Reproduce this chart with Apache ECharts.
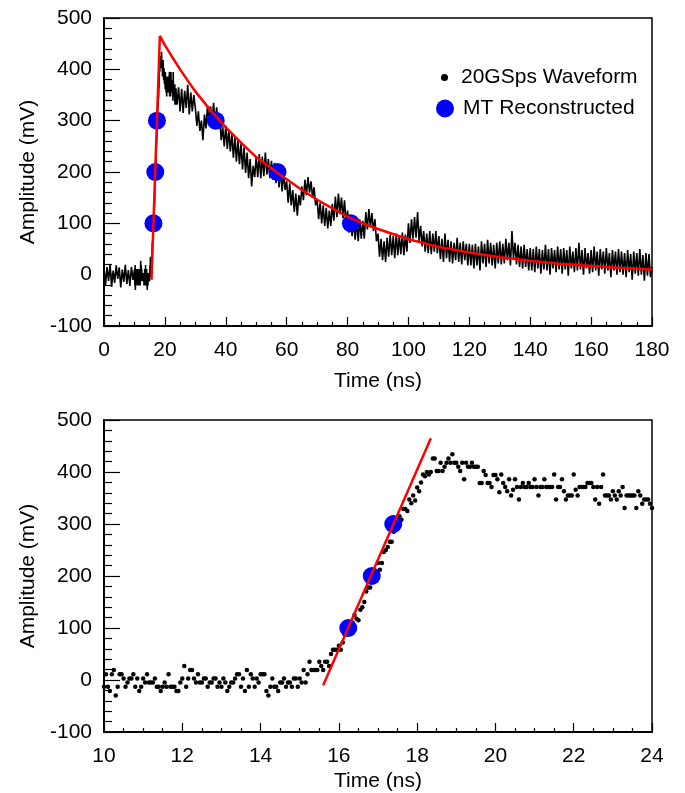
<!DOCTYPE html>
<html>
<head>
<meta charset="utf-8">
<script src="https://cdn.jsdelivr.net/npm/echarts@6/dist/echarts.min.js"></script>
<style>
  html, body { margin: 0; padding: 0; background: #fff; }
  #chart { width: 685px; height: 793px; }
</style>
</head>
<body>
<div id="chart"></div>
<script>
// 20 GSps waveform (mV). Coarse readings outside the 10-24 ns window,
// every sample inside it.
var coarseStep = 0.5;
var preStart = 0;
var wavePre = [12, -20, 15, -12, 20, -24, 8, -16, 18, -8, 14, -25, 10, -14, 19, -18, 9, -22, 15, -10];

var fineStart = 10;
var fineStep = 0.05;
var waveFine = [
  -13, 11, -13, -21, 11, 19, -30, -13, 11, 11, 3, -13, -5, 3, 3, 11, -13, 3, -21, -13,
  3, -5, 11, -5, -5, -5, 3, -13, -13, -21, -13, -5, -13, 11, -13, -13, -13, -21, -21, -5,
  3, 27, -13, 3, 19, 19, 3, -5, 11, -5, -5, 3, 3, -13, -5, -5, 3, 3, -13, -5,
  -13, 3, -5, -21, -13, -5, -5, 3, 11, 11, -13, 3, -21, 19, -13, 11, 3, -13, 3, -5,
  11, 11, 11, -21, -30, -13, 3, -13, -13, -21, -5, -5, 3, -13, -5, -5, -13, 3, 3, -13,
  3, -5, 19, -5, 11, 35, 19, 19, 19, 19, 35, 27, 19, 35, 35, 27, 50, 58, 58, 58,
  66, 58, 72, 87, 95, 100, 105, 110, 125, 118, 115, 135, 140, 150, 170, 178, 178, 195, 205, 209,
  225, 212, 225, 246, 250, 256, 266, 266, 285, 300, 300, 315, 308, 329, 329, 325, 347, 340, 355, 345,
  370, 363, 380, 395, 392, 400, 395, 400, 426, 426, 402, 402, 418, 402, 410, 418, 426, 418, 434, 418,
  418, 410, 402, 418, 386, 418, 410, 410, 418, 410, 410, 410, 379, 379, 402, 394, 379, 379, 371, 394,
  394, 386, 361, 395, 379, 371, 363, 386, 355, 366, 386, 371, 347, 371, 379, 371, 371, 379, 371, 371,
  386, 371, 355, 371, 371, 386, 371, 371, 371, 371, 395, 347, 371, 371, 386, 363, 347, 355, 355, 355,
  395, 366, 355, 371, 371, 371, 371, 379, 379, 379, 371, 347, 371, 339, 371, 395, 355, 355, 355, 347,
  363, 355, 347, 363, 355, 371, 331, 355, 355, 355, 355, 355, 331, 363, 355, 339, 347, 347, 347, 339,
  331
];

var postStart = 24.5;
var wavePost = [
  365, 318, 362, 315, 358, 325, 370, 312, 355, 318, 350,
  325, 290, 318, 280, 300, 262, 312, 285, 330, 295, 328, 298, 335, 292, 326, 290, 305, 262, 288, 250,
  290, 245, 282, 240, 275, 228, 268, 220, 262, 215, 255, 205, 248, 198, 238, 188, 225, 172, 212, 190,
  230, 190, 235, 188, 230, 192, 238, 195, 225, 188, 222, 185, 218, 178, 215, 170, 205, 162, 198, 165,
  182, 140, 178, 135, 165, 122, 158, 115, 155, 135, 172, 145, 185, 155, 190, 160, 182, 150, 170, 135,
  148, 108, 140, 100, 135, 95, 130, 90, 125, 95, 138, 105, 152, 112, 158, 118, 150, 110, 145, 100,
  125, 82, 115, 75, 108, 68, 105, 65, 108, 70, 105, 70, 122, 88, 128, 92, 120, 85, 108, 65,
  80, 35, 70, 28, 65, 25, 72, 35, 78, 38, 75, 32, 80, 38, 75, 40, 82, 38, 78, 45,
  100, 62, 108, 70, 112, 72, 122, 65, 95, 55, 85, 45, 80, 42, 85, 40, 80, 45, 85, 42,
  75, 30, 70, 25, 80, 32, 68, 25, 65, 22, 62, 28, 72, 25, 62, 20, 65, 28, 60, 18,
  60, 18, 58, 12, 60, 18, 55, 8, 65, 22, 60, 15, 68, 22, 62, 18, 58, 12, 62, 22,
  65, 20, 60, 22, 70, 28, 62, 18, 85, 32, 62, 20, 58, 15, 55, 12, 58, 15, 50, 8,
  52, 8, 50, 5, 55, 12, 50, 2, 48, 10, 58, 8, 50, 0, 52, 12, 48, 5, 55, 10,
  50, 2, 52, 10, 48, -2, 55, 12, 45, 5, 52, 8, 62, 10, 48, 0, 52, 12, 42, 2,
  48, 5, 55, 8, 45, -2, 50, 10, 45, 2, 52, 8, 42, -5, 48, 8, 45, 0, 50, 5,
  45, 0, 42, -5, 48, 5, 40, -10, 45, 2, 42, -2, 50, 0, 38, -12, 42, -2, 40, -5, 15
];

// MT reconstructed threshold crossings
var mtTimes = [16.24, 16.84, 17.39, 36.7, 57.0, 81.1];
var mtAmps = [100, 200, 300, 300, 200, 100];

// fitted pulse (red)
var fitTimes = [15.6, 18.35, 20, 22.5, 25, 27.5, 30, 35, 40, 45, 50, 55, 60, 65, 70, 75, 80, 85, 90, 100, 110, 120, 130, 140, 150, 160, 170, 180];
var fitAmps = [-10, 465, 447, 423, 400, 378, 357, 320, 287, 257, 229, 207, 186, 165, 146, 129, 113, 100, 89, 69, 54, 43, 34, 27, 21, 17, 13, 10];
var edgeTimes = [15.6, 18.35];
var edgeAmps = [-10, 465];

var topTicks = { min: 0, max: 180, interval: 20 };
var zoomTicks = { min: 10, max: 24, interval: 2 };

function pairs(start, step, vals) {
  return vals.map(function (v, i) { return [+(start + i * step).toFixed(2), v]; });
}
function zip(xs, ys) {
  return xs.map(function (x, i) { return [x, ys[i]]; });
}

var fineData = pairs(fineStart, fineStep, waveFine);
var fullData = pairs(preStart, coarseStep, wavePre)
  .concat(fineData)
  .concat(pairs(postStart, coarseStep, wavePost));
var mtData = zip(mtTimes, mtAmps);

var font = "'Liberation Sans', Arial, sans-serif";
var black = "#000";
var fs = 21;

function xAxis(gi, t, gap) {
  return {
    gridIndex: gi, type: "value", min: t.min, max: t.max, interval: t.interval,
    name: "Time (ns)", nameLocation: "middle", nameGap: gap,
    nameTextStyle: { color: black, fontSize: fs, fontFamily: font },
    axisLine: { onZero: false, lineStyle: { color: black, width: 2 } },
    axisTick: { inside: true, length: 9, lineStyle: { color: black, width: 1.2 } },
    minorTick: { show: true, splitNumber: 4, length: 4, lineStyle: { color: black, width: 1.2 } },
    axisLabel: { color: black, fontSize: fs, fontFamily: font, margin: 14 },
    splitLine: { show: false }
  };
}
function yAxis(gi) {
  return {
    gridIndex: gi, type: "value", min: -100, max: 500, interval: 100,
    name: "Amplitude (mV)", nameLocation: "middle", nameGap: 65,
    nameTextStyle: { color: black, fontSize: fs, fontFamily: font },
    axisLine: { onZero: false, lineStyle: { color: black, width: 2 } },
    axisTick: { inside: true, length: 16, lineStyle: { color: black, width: 1.2 } },
    minorTick: { show: true, splitNumber: 5, length: 8, lineStyle: { color: black, width: 1.2 } },
    axisLabel: { color: black, fontSize: fs, fontFamily: font, margin: 12 },
    splitLine: { show: false }
  };
}

var chart = echarts.init(document.getElementById("chart"));
chart.setOption({
  animation: false,
  backgroundColor: "#fff",
  grid: [
    { left: 104, top: 18, width: 548, height: 308, show: true, borderColor: black, borderWidth: 1.5 },
    { left: 104, top: 420, width: 548, height: 312, show: true, borderColor: black, borderWidth: 1.5 }
  ],
  xAxis: [xAxis(0, topTicks, 45), xAxis(1, zoomTicks, 39)],
  yAxis: [yAxis(0), yAxis(1)],
  legend: [
    {
      data: [{ name: "20GSps Waveform", icon: "circle" }],
      left: 436, top: 62, itemWidth: 7, itemHeight: 7, selectedMode: false,
      textStyle: { color: black, fontSize: fs, fontFamily: font, padding: [0, 0, 0, 8] }
    },
    {
      data: [{ name: "MT Reconstructed", icon: "circle" }],
      left: 431, top: 93, itemWidth: 18, itemHeight: 18, selectedMode: false,
      textStyle: { color: black, fontSize: fs, fontFamily: font, padding: [0, 0, 0, 4] }
    }
  ],
  series: [
    {
      name: "20GSps Waveform", type: "line", xAxisIndex: 0, yAxisIndex: 0,
      data: fullData, symbol: "none", color: black,
      lineStyle: { color: black, width: 1.6 }, z: 2
    },
    {
      name: "MT Reconstructed", type: "scatter", xAxisIndex: 0, yAxisIndex: 0,
      data: mtData, symbolSize: 18, itemStyle: { color: "#0000ff", opacity: 1 }, z: 3
    },
    {
      name: "fit", type: "line", xAxisIndex: 0, yAxisIndex: 0,
      data: zip(fitTimes, fitAmps), symbol: "none",
      lineStyle: { color: "#ff0000", width: 2.5 }, z: 4
    },
    {
      name: "20GSps Waveform", type: "scatter", xAxisIndex: 1, yAxisIndex: 1,
      data: fineData, symbolSize: 4.5, itemStyle: { color: black, opacity: 1 }, z: 2
    },
    {
      name: "MT Reconstructed", type: "scatter", xAxisIndex: 1, yAxisIndex: 1,
      data: mtData, symbolSize: 18, itemStyle: { color: "#0000ff", opacity: 1 }, z: 3
    },
    {
      name: "edge fit", type: "line", xAxisIndex: 1, yAxisIndex: 1,
      data: zip(edgeTimes, edgeAmps), symbol: "none",
      lineStyle: { color: "#ff0000", width: 2.5 }, z: 4
    }
  ]
});
</script>
</body>
</html>
